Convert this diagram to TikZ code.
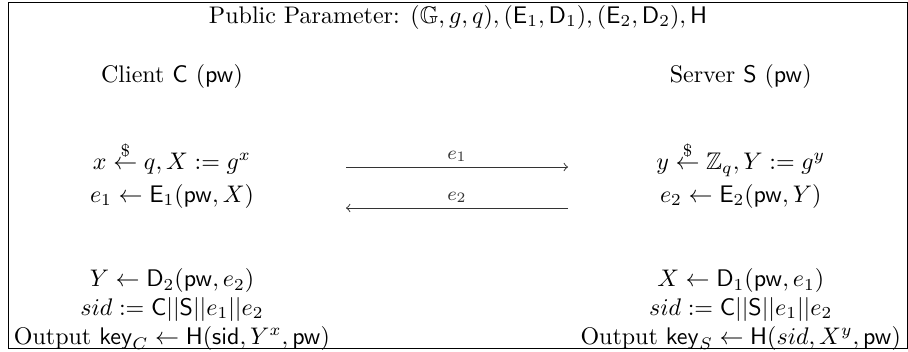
\documentclass[tikz,border=0pt]{standalone}
\usepackage{amsmath,amssymb}
\usetikzlibrary{arrows, positioning}
\tikzset{
  msg/.style={->, thin, black!80}, % message arrows
  party/.style={align=center, inner sep=0pt, anchor=base}, % text blocks of both sides
  label/.style={above, font=\footnotesize, inner sep=2pt},
}

\begin{document}
\begin{tikzpicture}[x=0.4167pt, y=-0.4167pt, node distance=237pt]
    \useasboundingbox (0,0) rectangle (908,351);
    \draw (8,2) rectangle (907,348);

    \node[party] (param) at (458,23) {Public Parameter:
      $(\mathbb{G},g,q),(\mathsf{E}_1,\mathsf{D}_1),(\mathsf{E}_2,\mathsf{D}_2),\mathsf{H}$};

    \node[party] (client) at (172,82) {Client $\mathsf{C}$ $(\mathsf{pw})$};
    \node[party, right of=client] (server) {Server $\mathsf{S}$ $(\mathsf{pw})$};

    % base anchor sits on the last line
    \node[party] (cfirst) at (172,202) {$x \overset{\$}{\leftarrow} q, X := g^x$\\[1.5pt]
      $e_1 \leftarrow \mathsf{E}_1(\mathsf{pw},X)$};
    \node[party, right of=cfirst] (sfirst) {$y \overset{\$}{\leftarrow} \mathbb{Z}_q, Y := g^y$\\[1.5pt]
      $e_2 \leftarrow \mathsf{E}_2(\mathsf{pw},Y)$};

    \node[party] (clast) at (172,344) {$Y \leftarrow \mathsf{D}_2(\mathsf{pw},e_2)$\\
      $sid := \mathsf{C}||\mathsf{S}||e_1||e_2$\\
      Output $\mathsf{key}_C \leftarrow \mathsf{H}(\mathsf{sid},Y^x,\mathsf{pw})$};
    \node[party, right of=clast] (slast) {$X \leftarrow \mathsf{D}_1(\mathsf{pw},e_1)$\\
      $sid := \mathsf{C}||\mathsf{S}||e_1||e_2$\\
      Output $\mathsf{key}_S \leftarrow \mathsf{H}(sid,X^y,\mathsf{pw})$};

    \coordinate (cout) at (346,167);
    \coordinate (sin) at (568,167);
    \coordinate (sout) at (568,208);
    \coordinate (cin) at (346,208);

    \draw
    (cout) edge[msg] node[label] {$e_1$} (sin)
    (sout) edge[msg] node[label] {$e_2$} (cin)
    ;
  \end{tikzpicture}
\end{document}
